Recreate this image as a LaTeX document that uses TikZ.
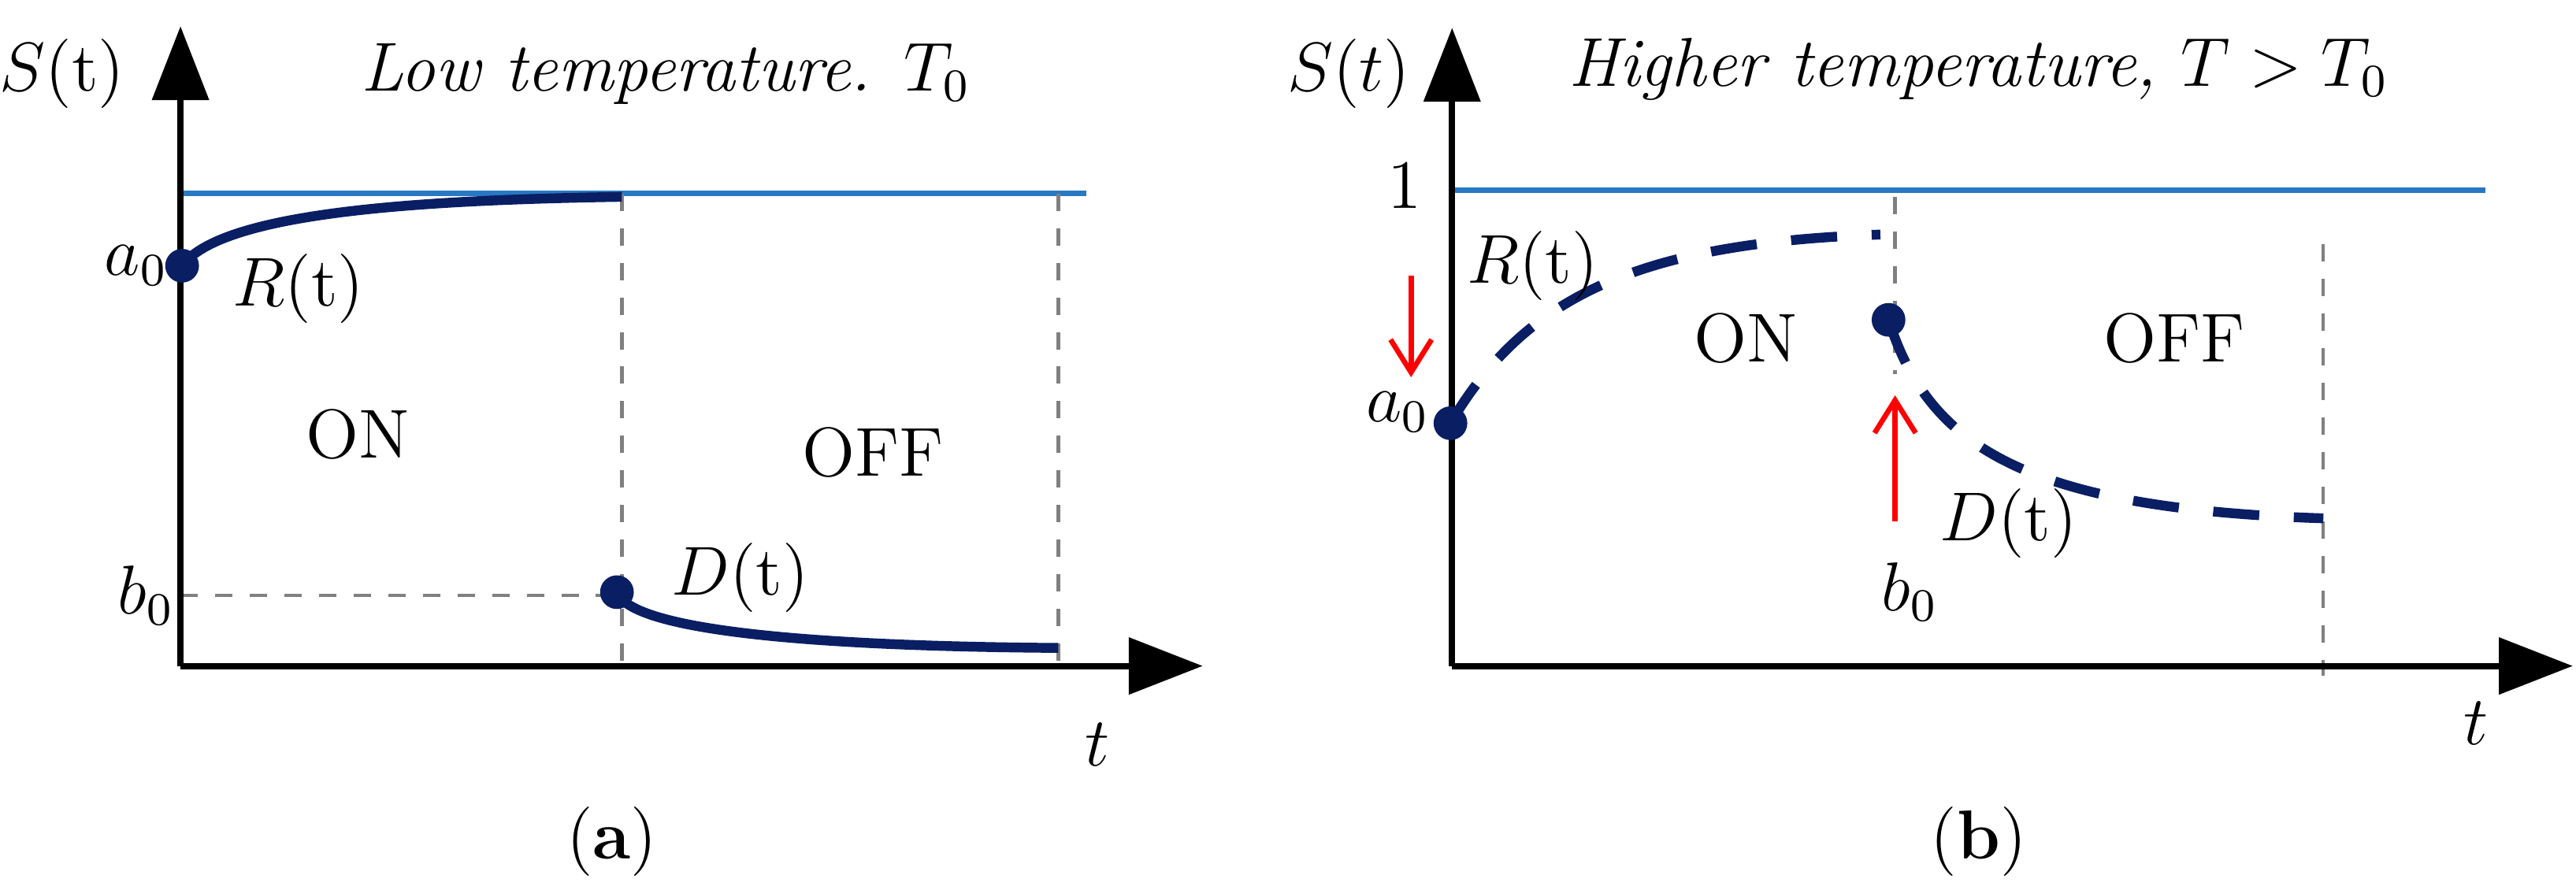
\documentclass[tikz,border=0pt]{standalone}
\usetikzlibrary{arrows.meta}
\definecolor{navy}{RGB}{10,30,100}
\definecolor{lblue}{RGB}{40,120,195}
\tikzset{
 axis/.style={line width=1.1pt,-{Triangle[length=0.45cm,width=0.34cm]}},
 guide/.style={gray,dashed,line width=0.6pt},
 top/.style={lblue,line width=0.9pt},
 curve/.style={navy,line width=1.7pt},
 dcurve/.style={navy,line width=1.7pt,dash pattern=on 8pt off 6pt},
 mark0/.style={circle,draw=navy,fill=navy,line width=1pt,inner sep=0pt,minimum size=0.17cm},
 redarr/.style={red,line width=0.9pt,-{Straight Barb[length=0.2cm,width=0.25cm]}},
 lab/.style={font=\large},
}
\begin{document}
\begin{tikzpicture}[x=0.01cm,y=-0.01cm]
\useasboundingbox (0,0) rectangle (1570,540);
% panel a
\draw[top] (110,118) -- (662,118);
\draw[guide] (379,118) -- (379,406);
\draw[guide] (645,118) -- (645,406);
\draw[guide] (110,363) -- (376,363);
\coordinate (oa) at (110,406);
\coordinate (ya) at (110,16);
\coordinate (xa) at (733,406);
\draw[axis] (oa) -- (ya);
\draw[axis] (oa) -- (xa);
\node[mark0] (a0m) at (111,162) {};
\node[mark0] (b0m) at (376,361) {};
\draw[curve] (a0m.center) .. controls (135,130) and (250,122) .. (379,120);
\draw[curve] (b0m.center) .. controls (385,385) and (500,394) .. (645,395);
\node[lab] (sa) at (38,45) {$S$(t)};
\node[lab] (ta) at (406,45) {\itshape Low temperature. $T_0$};
\node[lab] (a0a) at (83,162) {$a_0$};
\node[lab] (ra) at (182,176) {$R$(t)};
\node[lab] (ona) at (218,265) {ON};
\node[lab] (offa) at (532,276) {OFF};
\node[lab] (b0a) at (89,363) {$b_0$};
\node[lab] (da) at (451,352) {$D$(t)};
\node[lab] (tta) at (669,454) {$t$};
\node[lab] (capa) at (373,513) {(\textbf{a})};
% panel b
\draw[top] (885,116) -- (1515,116);
\draw[guide] (1155,120) -- (1155,228);
\draw[guide] (1416,149) -- (1416,412);
\coordinate (ob) at (885,406);
\coordinate (yb) at (885,17);
\coordinate (xb) at (1568,406);
\draw[axis] (ob) -- (yb);
\draw[axis] (ob) -- (xb);
\node[mark0] (a0bm) at (884,258) {};
\node[mark0] (b0bm) at (1151,195) {};
\draw[dcurve] (a0bm.center) .. controls (930,180) and (1000,148) .. (1146,143);
\draw[dcurve] (b0bm.center) .. controls (1175,270) and (1230,310) .. (1416,316);
\node[lab] (one) at (856,113) {1};
\node[lab] (sb) at (822,45) {$S(t)$};
\node[lab] (tb) at (1206,42) {\itshape Higher temperature, $T>T_0$};
\node[lab] (rb) at (934,162) {$R$(t)};
\node[lab] (a0b) at (852,251) {$a_0$};
\node[lab] (onb) at (1064,206) {ON};
\node[lab] (offb) at (1325,206) {OFF};
\node[lab] (db) at (1224,319) {$D$(t)};
\node[lab] (b0b) at (1164,361) {$b_0$};
\node[lab] (ttb) at (1509,441) {$t$};
\node[lab] (capb) at (1206,513) {(\textbf{b})};
\coordinate (r1s) at (860,168); \coordinate (r1e) at (860,230);
\coordinate (r2s) at (1155,318); \coordinate (r2e) at (1155,241);
\draw[redarr] (r1s) -- (r1e);
\draw[redarr] (r2s) -- (r2e);
\end{tikzpicture}
\end{document}
